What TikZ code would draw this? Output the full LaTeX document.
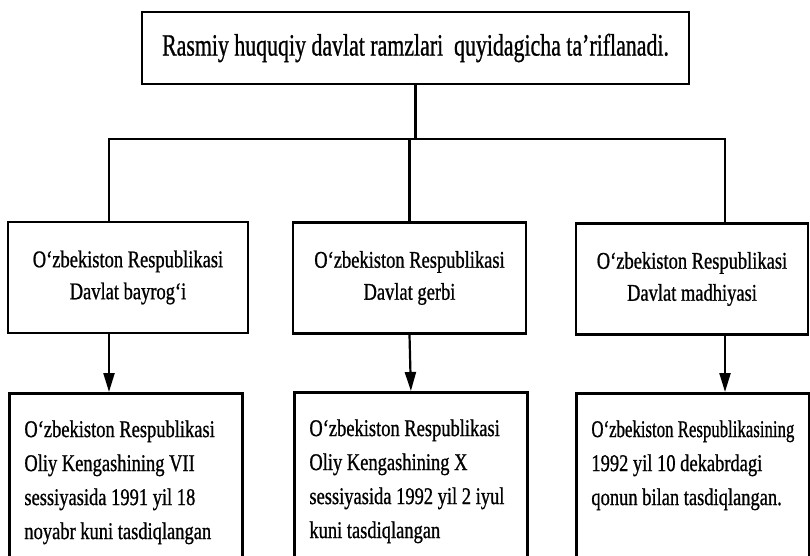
\documentclass[tikz,border=0pt]{standalone}
\usepackage{fontspec}
\setmainfont{Liberation Serif}
\newfontfamily\narrowserif[FakeStretch=0.77, FakeBold=0.8]{Liberation Serif}
\newfontfamily\tightserif[FakeStretch=0.70, FakeBold=0.8]{Liberation Serif}
\newfontfamily\topserif[FakeStretch=0.705, FakeBold=0.8]{Liberation Serif}
\usetikzlibrary{arrows.meta, positioning}

\newcommand{\lowtext}[1]{\parbox[t][200pt][t]{203pt}{\vspace{27pt}\raggedright #1}}

\tikzset{
  box/.style={draw, line width=2.8pt, inner sep=0pt},
  topbox/.style={box, minimum width=547pt, minimum height=72pt,
    font=\topserif\fontsize{31}{36}\selectfont},
  midbox/.style={box, minimum height=111pt, align=center,
    font=\narrowserif\fontsize{24}{32}\selectfont},
  lowbox/.style={box, anchor=north west, inner xsep=15pt, inner ysep=0pt,
    font=\narrowserif\fontsize{24}{34}\selectfont},
  link/.style={line width=2.2pt},
  arr/.style={link, -{Triangle[width=11pt, length=19pt]}}
}

\begin{document}
\begin{tikzpicture}[x=1pt, y=-1pt]
  \useasboundingbox (0,0) rectangle (810,555);
  \clip (0,0) rectangle (810,555);

  % top
  \node[topbox] (top) at (415.5,48) {Rasmiy huquqiy davlat ramzlari\ \ quyidagicha ta’riflanadi.};

  % middle row
  \node[midbox, minimum width=240pt] (m1) at (128,277.5) {O‘zbekiston Respublikasi\\Davlat bayrog‘i};
  \node[midbox, minimum width=233pt] (m2) at (409.5,278) {O‘zbekiston Respublikasi\\Davlat gerbi};
  \node[midbox, minimum width=232pt] (m3) at (692,279) {O‘zbekiston Respublikasi\\Davlat madhiyasi};

  % bottom row
  \node[lowbox] (b1) at (8,392) {\lowtext{O‘zbekiston Respublikasi\\Oliy Kengashining VII\\sessiyasida 1991 yil 18\\noyabr kuni tasdiqlangan}};
  \node[lowbox] (b2) at (293,391) {\lowtext{O‘zbekiston Respublikasi\\Oliy Kengashining X\\sessiyasida 1992 yil 2 iyul\\kuni tasdiqlangan}};
  \node[lowbox] (b3) at (575,392) {\lowtext{\mbox{\tightserif O‘zbekiston Respublikasining}\\1992 yil 10 dekabrdagi\\qonun bilan tasdiqlangan.}};

  % connectors
  \coordinate (bl) at (109,139);
  \coordinate (br) at (725,139);
  \draw[link] (top.south) -- (top.south |- bl);
  \draw[link] (m1.north -| bl) -- (bl) -- (br) -- (m3.north -| br);
  \draw[link] (m2.north) -- (m2.north |- bl);
  \draw[arr] (m1.south -| bl) -- (b1.north -| bl);
  \draw[arr] (m2.south) -- (b2.north);
  \draw[arr] (m3.south -| br) -- (b3.north -| br);
\end{tikzpicture}
\end{document}
